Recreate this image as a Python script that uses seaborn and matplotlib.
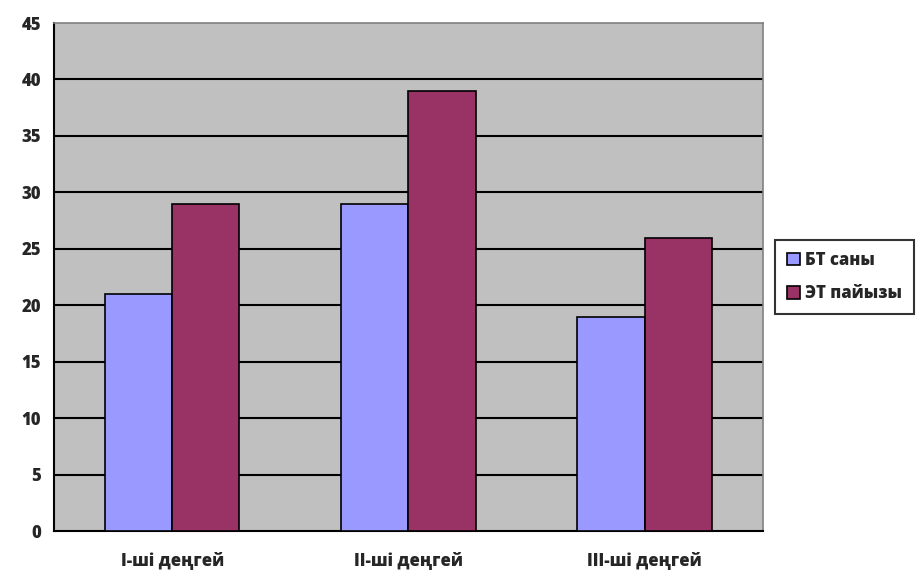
import pandas as pd
import matplotlib.pyplot as plt
import seaborn as sns

categories = ["І-ші деңгей", "ІІ-ші деңгей", "ІІІ-ші деңгей"]
bt_sany = [21, 29, 19]
et_paiyzy = [29, 39, 26]
series_names = ["БТ саны", "ЭТ пайызы"]

df = pd.DataFrame({
    "category": categories * 2,
    "value": bt_sany + et_paiyzy,
    "series": [series_names[0]] * 3 + [series_names[1]] * 3,
})

sns.set_style("white")
plt.rcParams['font.family'] = ['Open Sans', 'DejaVu Sans']
plt.rcParams['font.weight'] = 'heavy'

fig = plt.figure(figsize=(9.23, 5.76), dpi=100)
ax = fig.add_axes([0.0585, 0.078, 0.768, 0.882])
ax.set_facecolor("#C0C0C0")

sns.barplot(data=df, x="category", y="value", hue="series",
            palette=["#9999FF", "#993366"], width=0.57,
            edgecolor="black", linewidth=1.2, saturation=1, ax=ax, zorder=3)

ax.set_ylim(0, 45)
ax.set_xlim(-0.5, 2.5)
ax.set_yticks(range(0, 46, 5))
for y in range(5, 45, 5):
    ax.axhline(y, color="black", linewidth=1.5, zorder=1)

ax.set_xticks([0, 1, 2])
ax.set_xticklabels(categories)
ax.set_xticks([-0.5, 0.5, 1.5, 2.5], minor=True)
ax.tick_params(axis="x", which="major", length=0, pad=15, labelsize=12)
ax.tick_params(axis="x", which="minor", length=6, width=1.5, direction="out", color="black")
ax.tick_params(axis="y", length=6, width=1.5, direction="out", color="black", labelsize=12)
for lab in ax.get_xticklabels() + ax.get_yticklabels():
    lab.set_fontweight("heavy")

ax.set_xlabel("")
ax.set_ylabel("")
for side in ["left", "bottom"]:
    ax.spines[side].set_color("black")
    ax.spines[side].set_linewidth(1.5)
for side in ["top", "right"]:
    ax.spines[side].set_color("#808080")
    ax.spines[side].set_linewidth(1.2)

leg = ax.legend(loc="center left", bbox_to_anchor=(1.017, 0.5), frameon=True,
                fancybox=False, edgecolor="black", handlelength=0.8,
                handleheight=0.8, handletextpad=0.3, borderpad=0.7,
                labelspacing=1.0, borderaxespad=0,
                prop={"weight": "heavy", "size": 12})
leg.get_frame().set_linewidth(1.5)
for h in leg.legend_handles:
    h.set_edgecolor("black")
    h.set_linewidth(1.2)

fig.savefig("out.png", dpi=100)
